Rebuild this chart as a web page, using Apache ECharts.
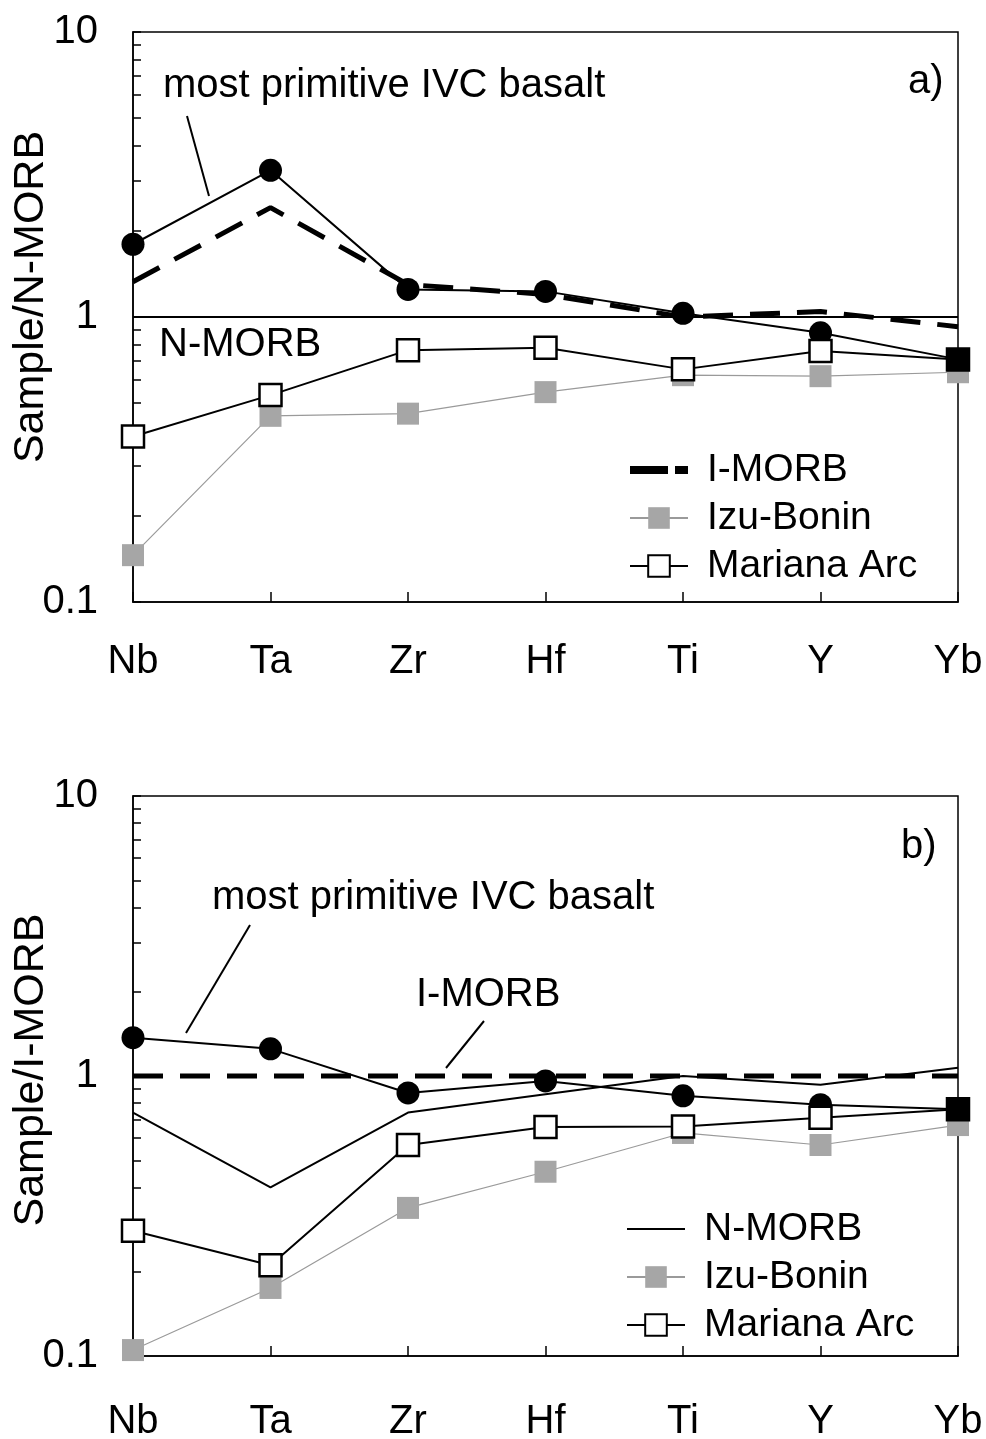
<!DOCTYPE html>
<html>
<head>
<meta charset="utf-8">
<script src="https://cdn.jsdelivr.net/npm/echarts@6/dist/echarts.min.js"></script>
<style>
html,body{margin:0;padding:0;background:#fff;}
#c{width:986px;height:1439px;}
</style>
</head>
<body>
<div id="c"></div>
<script>
// ---- data ----
const elements = ['Nb', 'Ta', 'Zr', 'Hf', 'Ti', 'Y', 'Yb'];
// panel a) normalised to N-MORB
const aIVC     = [1.80, 3.27, 1.25, 1.23, 1.03, 0.88, 0.71];
const aIMORB   = [1.33, 2.42, 1.30, 1.20, 1.00, 1.045, 0.925];
const aNMORB   = [1, 1, 1, 1, 1, 1, 1];
const aIzu     = [0.146, 0.45, 0.458, 0.545, 0.625, 0.62, 0.64];
const aMariana = [0.381, 0.532, 0.765, 0.78, 0.655, 0.76, 0.71];
// panel b) normalised to I-MORB
const bIVC     = [1.37, 1.25, 0.87, 0.96, 0.85, 0.79, 0.76];
const bIMORB   = [1, 1, 1, 1, 1, 1, 1];
const bNMORB   = [0.74, 0.40, 0.74, 0.86, 1.00, 0.93, 1.07];
const bIzu     = [0.105, 0.175, 0.338, 0.455, 0.626, 0.567, 0.668];
const bMariana = [0.28, 0.211, 0.567, 0.657, 0.66, 0.71, 0.76];
// axis ticks
const yMajorTicks = [0.1, 1, 10];
const yTickValues = [0.1, 0.2, 0.3, 0.4, 0.5, 0.6, 0.7, 0.8, 0.9, 1, 2, 3, 4, 5, 6, 7, 8, 9, 10];

const FONT = '"Liberation Sans", Arial, sans-serif';
const chart = echarts.init(document.getElementById('c'), null, {renderer: 'canvas'});

function xAxisFor(gi, margin) {
  return {
    type: 'category', gridIndex: gi, data: elements, boundaryGap: false,
    axisLine: {show: true, lineStyle: {color: '#000', width: 1.5}},
    axisTick: {show: true, inside: true, length: 10, lineStyle: {color: '#000', width: 1.5}},
    axisLabel: {color: '#000', fontSize: 40, fontFamily: FONT, margin: margin},
    splitLine: {show: false}
  };
}
function yAxisFor(gi, name, pad) {
  return {
    type: 'log', logBase: 10, gridIndex: gi, min: 0.1, max: 10,
    name: name, nameLocation: 'middle', nameGap: 80, nameMoveOverlap: false,
    nameTextStyle: {color: '#000', fontSize: 43, fontFamily: FONT, padding: pad},
    axisLine: {show: true, lineStyle: {color: '#000', width: 1.5}},
    axisTick: {show: true, inside: true, length: 8, customValues: yTickValues, lineStyle: {color: '#000', width: 1.5}},
    minorTick: {show: false},
    axisLabel: {color: '#000', fontSize: 40, fontFamily: FONT, margin: 35, customValues: yMajorTicks,
      formatter: v => String(+v.toPrecision(3))},
    splitLine: {show: false}
  };
}

const IVC_STYLE = {
  type: 'line', symbol: 'circle', symbolSize: 23, z: 3,
  lineStyle: {color: '#000', width: 2}, itemStyle: {color: '#000'}
};
const IMORB_STYLE = {
  type: 'line', symbol: 'none', z: 2,
  lineStyle: {color: '#000', width: 5, type: [30, 17]}, itemStyle: {color: '#000'}
};
const NMORB_STYLE = {
  type: 'line', symbol: 'none', z: 2,
  lineStyle: {color: '#000', width: 2}, itemStyle: {color: '#000'}
};
const IZU_STYLE = {
  type: 'line', symbol: 'rect', symbolSize: 22, z: 2,
  lineStyle: {color: '#9a9a9a', width: 1.2}, itemStyle: {color: '#a6a6a6'}
};
const MAR_STYLE = {
  type: 'line', symbol: 'rect', symbolSize: 22, z: 4,
  lineStyle: {color: '#000', width: 2}, itemStyle: {color: '#fff', borderColor: '#000', borderWidth: 2.5}
};

function marianaData(arr) {
  // the last point is shown as a solid square where it coincides with the IVC basalt
  return arr.map((v, i) => i === arr.length - 1 ? {value: v, itemStyle: {color: '#000'}} : v);
}

const series = [
  Object.assign({name: 'I-MORB', xAxisIndex: 0, yAxisIndex: 0, data: aIMORB}, IMORB_STYLE),
  Object.assign({name: 'N-MORB', xAxisIndex: 0, yAxisIndex: 0, data: aNMORB}, NMORB_STYLE),
  Object.assign({name: 'Izu-Bonin', xAxisIndex: 0, yAxisIndex: 0, data: aIzu}, IZU_STYLE),
  Object.assign({name: 'most primitive IVC basalt', xAxisIndex: 0, yAxisIndex: 0, data: aIVC}, IVC_STYLE),
  Object.assign({name: 'Mariana Arc', xAxisIndex: 0, yAxisIndex: 0, data: marianaData(aMariana)}, MAR_STYLE),

  Object.assign({name: 'I-MORB', xAxisIndex: 1, yAxisIndex: 1, data: bIMORB}, IMORB_STYLE),
  Object.assign({name: 'N-MORB', xAxisIndex: 1, yAxisIndex: 1, data: bNMORB}, NMORB_STYLE),
  Object.assign({name: 'Izu-Bonin', xAxisIndex: 1, yAxisIndex: 1, data: bIzu}, IZU_STYLE),
  Object.assign({name: 'most primitive IVC basalt', xAxisIndex: 1, yAxisIndex: 1, data: bIVC}, IVC_STYLE),
  Object.assign({name: 'Mariana Arc', xAxisIndex: 1, yAxisIndex: 1, data: marianaData(bMariana)}, MAR_STYLE)
];

const legendText = {color: '#000', fontSize: 39, fontFamily: FONT, lineHeight: 40, padding: [0, 0, 0, 14]};
const legendBase = {
  orient: 'vertical', itemWidth: 58, itemHeight: 27, itemGap: 8, selectedMode: false,
  textStyle: legendText, padding: 0
};

const option = {
  animation: false,
  backgroundColor: '#fff',
  grid: [
    {left: 133, top: 32, width: 825, height: 570, outerBoundsMode: 'none', containLabel: false,
     show: true, borderColor: '#000', borderWidth: 1.5, backgroundColor: 'transparent'},
    {left: 133, top: 796, width: 825, height: 560, outerBoundsMode: 'none', containLabel: false,
     show: true, borderColor: '#000', borderWidth: 1.5, backgroundColor: 'transparent'}
  ],
  xAxis: [xAxisFor(0, 40), xAxisFor(1, 46)],
  yAxis: [yAxisFor(0, 'Sample/N-MORB', [0, 0, 0, 40]), yAxisFor(1, 'Sample/I-MORB', [0, 0, 0, 12])],
  legend: [
    Object.assign({}, legendBase, {
      left: 626, top: 450,
      data: [
        {name: 'I-MORB', itemStyle: {opacity: 0}, lineStyle: {width: 8, type: [38, 7]}},
        {name: 'Izu-Bonin'},
        {name: 'Mariana Arc'}
      ]
    }),
    Object.assign({}, legendBase, {
      left: 626, top: 1209,
      data: [
        {name: 'N-MORB', itemStyle: {opacity: 0}},
        {name: 'Izu-Bonin'},
        {name: 'Mariana Arc'}
      ]
    })
  ],
  series: series,
  graphic: [
    {type: 'text', left: 163, top: 66, style: {text: 'most primitive IVC basalt', font: '40px ' + FONT, fill: '#000'}},
    {type: 'line', shape: {x1: 187, y1: 116, x2: 209, y2: 196}, style: {stroke: '#000', lineWidth: 2}},
    {type: 'text', left: 159, top: 325, style: {text: 'N-MORB', font: '40px ' + FONT, fill: '#000'}},
    {type: 'text', left: 908, top: 62, style: {text: 'a)', font: '40px ' + FONT, fill: '#000'}},

    {type: 'text', left: 212, top: 878, style: {text: 'most primitive IVC basalt', font: '40px ' + FONT, fill: '#000'}},
    {type: 'line', shape: {x1: 250, y1: 925, x2: 186, y2: 1033}, style: {stroke: '#000', lineWidth: 2}},
    {type: 'text', left: 416, top: 975, style: {text: 'I-MORB', font: '40px ' + FONT, fill: '#000'}},
    {type: 'line', shape: {x1: 484, y1: 1021, x2: 446, y2: 1068}, style: {stroke: '#000', lineWidth: 2}},
    {type: 'text', left: 901, top: 827, style: {text: 'b)', font: '40px ' + FONT, fill: '#000'}}
  ]
};
chart.setOption(option);
</script>
</body>
</html>
